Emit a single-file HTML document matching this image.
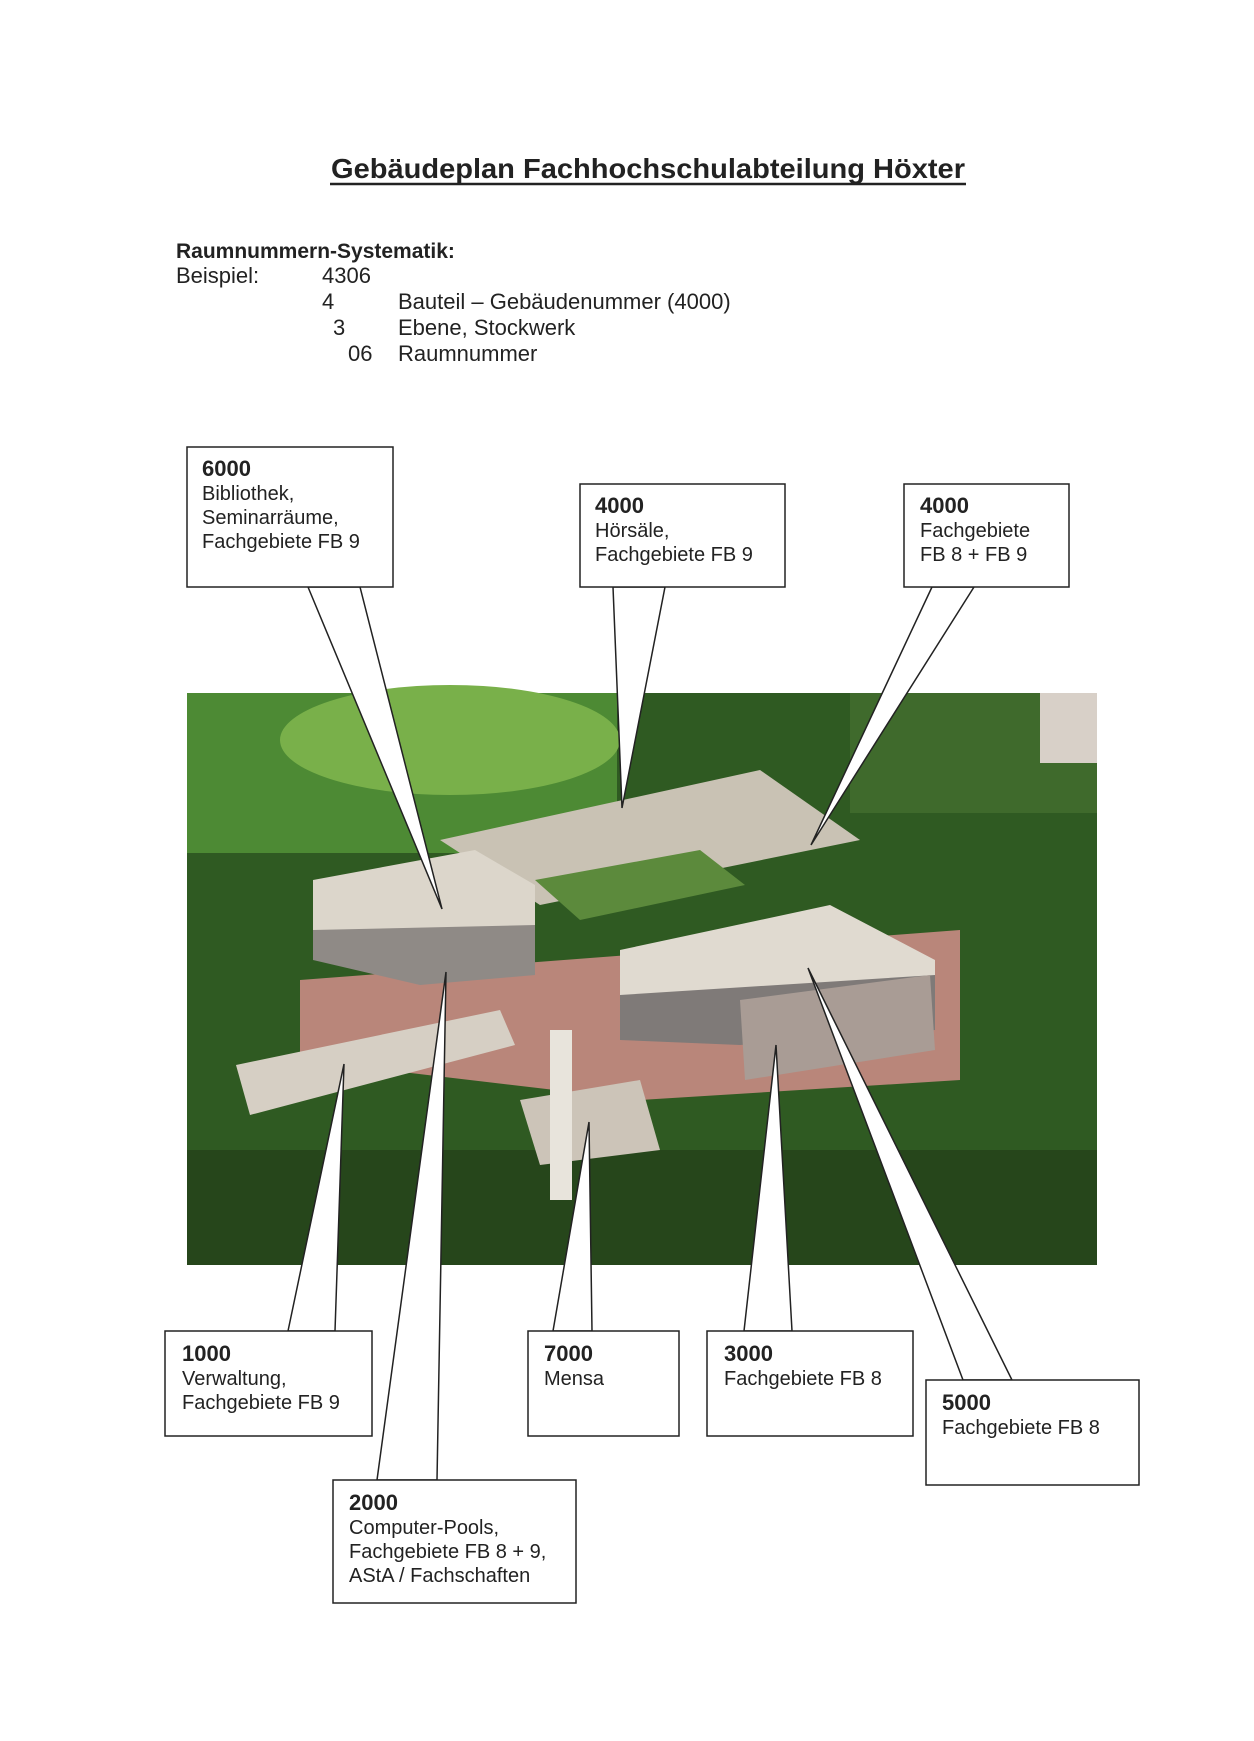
<!DOCTYPE html>
<html><head><meta charset="utf-8"><style>
html,body{margin:0;padding:0;background:#fff;}
svg{display:block;}
text{font-family:"Liberation Sans",Arial,sans-serif;fill:#222;}
</style></head><body>
<svg width="1254" height="1741" viewBox="0 0 1254 1741" xmlns="http://www.w3.org/2000/svg">
<rect width="1254" height="1741" fill="#fff"/>
<text x="648" y="178" text-anchor="middle" font-size="28" font-weight="bold" textLength="634" lengthAdjust="spacingAndGlyphs">Gebäudeplan Fachhochschulabteilung Höxter</text>
<line x1="330" y1="184" x2="966" y2="184" stroke="#222" stroke-width="2.5"/>
<g font-size="22">
<text x="176" y="258" font-weight="bold" font-size="21">Raumnummern-Systematik:</text>
<text x="176" y="283">Beispiel:</text>
<text x="322" y="283">4306</text>
<text x="322" y="309">4</text><text x="398" y="309">Bauteil – Gebäudenummer (4000)</text>
<text x="333" y="335">3</text><text x="398" y="335">Ebene, Stockwerk</text>
<text x="348" y="361">06</text><text x="398" y="361">Raumnummer</text>
</g>
<!-- photo -->
<g>
<rect x="187" y="693" width="910" height="572" fill="#2f5a22"/>
<rect x="187" y="693" width="430" height="160" fill="#4d8a34"/>
<ellipse cx="450" cy="740" rx="170" ry="55" fill="#79b04a"/>
<rect x="850" y="693" width="247" height="120" fill="#3f6a2c"/>
<rect x="187" y="1150" width="910" height="115" fill="#26461b"/>
<polygon points="300,980 960,930 960,1080 640,1100 300,1060" fill="#b9867a"/>
<polygon points="440,840 760,770 860,840 540,905" fill="#c9c2b4"/>
<polygon points="535,880 700,850 745,885 580,920" fill="#5c8a3c"/>
<polygon points="313,880 475,850 535,885 535,975 420,975 313,950" fill="#dcd6cb"/>
<polygon points="313,930 535,925 535,975 420,985 313,960" fill="#8f8a86"/>
<polygon points="620,950 830,905 935,960 935,1025 740,1040 620,1035" fill="#e0dad0"/>
<polygon points="620,995 935,975 935,1030 740,1045 620,1040" fill="#7f7a78"/>
<polygon points="236,1065 500,1010 515,1045 250,1115" fill="#d6cfc4"/>
<polygon points="520,1100 640,1080 660,1150 540,1165" fill="#ccc4b8"/>
<rect x="550" y="1030" width="22" height="170" fill="#e8e4dc"/>
<polygon points="740,1000 930,975 935,1050 745,1080" fill="#a99c95"/>
<rect x="1040" y="693" width="57" height="70" fill="#d8d0c8"/>
</g>
<!-- tails -->
<g fill="#fff" stroke="#222" stroke-width="1.5" stroke-linejoin="miter">
<polygon points="308,587 442,909 360,587"/>
<polygon points="613,587 622,808 665,587"/>
<polygon points="932,587 811,845 974,587"/>
<polygon points="288,1331 344,1064 335,1331"/>
<polygon points="377,1480 446,972 437,1480"/>
<polygon points="553,1331 589,1122 592,1331"/>
<polygon points="744,1331 776,1045 792,1331"/>
<polygon points="963,1380 808,968 1012,1380"/>
</g>
<!-- boxes -->
<g fill="#fff" stroke="#222" stroke-width="1.5">
<rect x="187" y="447" width="206" height="140"/>
<rect x="580" y="484" width="205" height="103"/>
<rect x="904" y="484" width="165" height="103"/>
<rect x="165" y="1331" width="207" height="105"/>
<rect x="333" y="1480" width="243" height="123"/>
<rect x="528" y="1331" width="151" height="105"/>
<rect x="707" y="1331" width="206" height="105"/>
<rect x="926" y="1380" width="213" height="105"/>
</g>
<g font-size="20">
<text x="202" y="476" font-weight="bold" font-size="22">6000</text>
<text x="202" y="500">Bibliothek,</text><text x="202" y="524">Seminarräume,</text><text x="202" y="548">Fachgebiete FB 9</text>
<text x="595" y="513" font-weight="bold" font-size="22">4000</text>
<text x="595" y="537">Hörsäle,</text><text x="595" y="561">Fachgebiete FB 9</text>
<text x="920" y="513" font-weight="bold" font-size="22">4000</text>
<text x="920" y="537">Fachgebiete</text><text x="920" y="561">FB 8 + FB 9</text>
<text x="182" y="1361" font-weight="bold" font-size="22">1000</text>
<text x="182" y="1385">Verwaltung,</text><text x="182" y="1409">Fachgebiete FB 9</text>
<text x="349" y="1510" font-weight="bold" font-size="22">2000</text>
<text x="349" y="1534">Computer-Pools,</text><text x="349" y="1558">Fachgebiete FB 8 + 9,</text><text x="349" y="1582">AStA / Fachschaften</text>
<text x="544" y="1361" font-weight="bold" font-size="22">7000</text>
<text x="544" y="1385">Mensa</text>
<text x="724" y="1361" font-weight="bold" font-size="22">3000</text>
<text x="724" y="1385">Fachgebiete FB 8</text>
<text x="942" y="1410" font-weight="bold" font-size="22">5000</text>
<text x="942" y="1434">Fachgebiete FB 8</text>
</g>
</svg>
</body></html>
